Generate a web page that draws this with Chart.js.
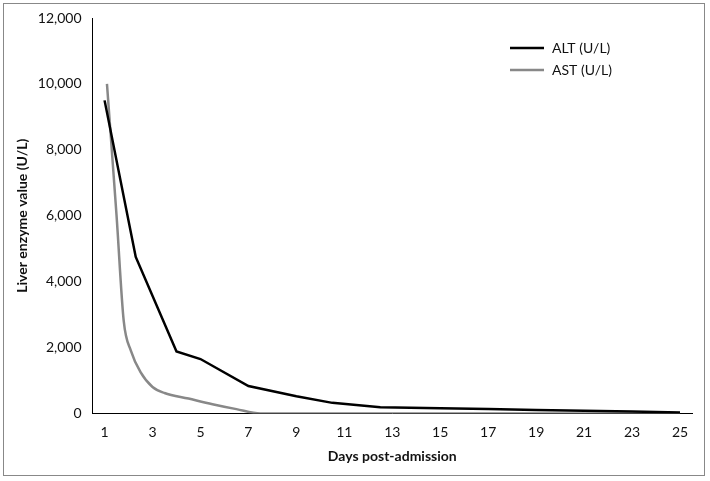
<!DOCTYPE html>
<html><head><script src="https://cdn.jsdelivr.net/npm/chart.js"></script>
<style>body{margin:0;background:#fff}#w{position:absolute;left:3px;top:3px;width:702px;height:473px;border:1px solid #888;box-sizing:border-box}</style></head>
<body><div id="w"><canvas id="c"></canvas></div>
<script>
const altX=[1,2.3,4,5,7,9,10.5,12.5,15,17,19,21,23,25];
const altY=[9500,4750,1880,1650,830,520,320,190,160,130,100,80,60,30];
const astX=[1.1,1.5,1.8,2.1,2.5,3,3.5,4.5,5.5,6.5,7.5,9,12,15,18,21,25];
const astY=[10000,6000,2800,1900,1250,800,620,450,280,130,0,0,0,0,0,0,0];
const mk=(xs,ys)=>xs.map((x,i)=>({x,y:ys[i]}));
const legendPlug={id:'lg',afterDraw(ch){const c=ch.ctx;c.save();c.font='14px Lato';c.textBaseline='middle';
ch.data.datasets.forEach((d,i)=>{const y=44+i*22;c.strokeStyle=d.borderColor;c.lineWidth=2.5;c.beginPath();c.moveTo(506,y);c.lineTo(540,y);c.stroke();c.fillStyle='#111';c.fillText(d.label,548,y);});c.restore();}};
new Chart(document.getElementById('c'),{type:'line',
data:{datasets:[{label:'ALT (U/L)',data:mk(altX,altY),borderColor:'#000',borderWidth:2.5,pointRadius:0,tension:0},
{label:'AST (U/L)',data:mk(astX,astY),borderColor:'#888',borderWidth:2.5,pointRadius:0,tension:0.4,cubicInterpolationMode:'monotone'}]},
options:{responsive:true,maintainAspectRatio:false,animation:false,layout:{padding:{top:14,right:12,left:6,bottom:6}},
plugins:{legend:{display:false},tooltip:{enabled:false}},
scales:{x:{type:'linear',min:0.5,max:25.5,grid:{display:false,drawTicks:true},border:{color:'#000'},
ticks:{stepSize:1,autoSkip:false,color:'#111',font:{family:'Lato',size:14},maxRotation:0,callback:v=>(v%2===1?v:'')},
afterBuildTicks:a=>{a.ticks=[];for(let i=1;i<=25;i++)a.ticks.push({value:i});},
title:{display:true,text:'Days post-admission',color:'#111',font:{family:'Lato',size:14,weight:'bold'}}},
y:{min:0,max:12000,grid:{display:false},border:{color:'#000'},ticks:{stepSize:2000,color:'#111',font:{family:'Lato',size:14},callback:v=>v.toLocaleString('en-US')},
title:{display:true,text:'Liver enzyme value (U/L)',color:'#111',font:{family:'Lato',size:14,weight:'bold'}}}}},
plugins:[legendPlug]});
</script></body></html>
